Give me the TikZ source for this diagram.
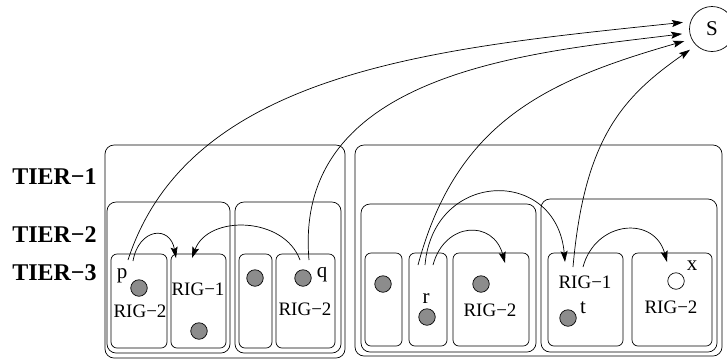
\documentclass[tikz,border=0pt]{standalone}
\usepackage{fontspec}
\setmainfont{Liberation Serif}
\usetikzlibrary{arrows.meta}

\definecolor{dotgray}{gray}{0.55}

\begin{document}
\begin{tikzpicture}[x=1pt,y=-1pt,line width=0.7pt,
    >={Stealth[length=11pt,width=7pt,inset=2pt]}]

      \useasboundingbox (0,0) rectangle (727,360);

      % tier-1 and tier-2 groups
      \begin{scope}[every node/.style={draw,rounded corners=9pt,inner sep=0pt}]
        \node[minimum width=240,minimum height=213] (L)  at (225,251.5) {};
        \node[minimum width=367,minimum height=211] (R)  at (538.5,250.5) {};
        \node[minimum width=123,minimum height=151] (La) at (168.5,277.5) {};
        \node[minimum width=106,minimum height=151] (Lb) at (288,277.5) {};
        \node[minimum width=175,minimum height=148] (Ra) at (448.5,278) {};
        \node[minimum width=176,minimum height=153] (Rb) at (629,275.5) {};
      \end{scope}

      % tier-3 groups
      \begin{scope}[every node/.style={draw,rounded corners=6pt,inner sep=0pt,minimum height=94}]
        \node[minimum width=56] (1) at (139,301)   {};
        \node[minimum width=55] (2) at (198.5,301) {};
        \node[minimum width=33] (3) at (255.5,301) {};
        \node[minimum width=59] (4) at (305.5,301) {};
        \node[minimum width=37,minimum height=93] (5) at (383.5,299.5) {};
        \node[minimum width=38,minimum height=93] (6) at (428,299.5)   {};
        \node[minimum width=76,minimum height=93] (7) at (491,299.5)   {};
        \node[minimum width=75,minimum height=93] (8) at (585.5,299.5) {};
        \node[minimum width=80,minimum height=93] (9) at (672,299.5)   {};
      \end{scope}

      % nodes
      \begin{scope}[every node/.style={circle,draw,fill=dotgray,inner sep=0pt,minimum size=16.5}]
        \node (p) at (139,288) {};
        \node (d2) at (199,331) {};
        \node (d3) at (255,278) {};
        \node (q) at (303,278) {};
        \node (d5) at (383,284) {};
        \node (r) at (427,317) {};
        \node (d7) at (481,284) {};
        \node (t) at (568,318) {};
        \node[fill=white] (x) at (676,281) {};
      \end{scope}

      \node[circle,draw,minimum size=45,inner sep=0pt,font=\fontsize{21}{21}\selectfont] (S) at (712,29) {S};

      % labels
      \begin{scope}[every node/.style={anchor=base,inner sep=0pt,font=\fontsize{19}{19}\selectfont}]
        \node at (140,317) {RIG−2};
        \node at (198,295) {RIG−1};
        \node at (305,315) {RIG−2};
        \node at (490,316) {RIG−2};
        \node at (585,288) {RIG−1};
        \node at (671,313) {RIG−2};
      \end{scope}

      \begin{scope}[every node/.style={anchor=base,inner sep=0pt,font=\fontsize{21}{21}\selectfont}]
        \node at (122,278) {p};
        \node at (322,277) {q};
        \node at (426,303) {r};
        \node at (583,313) {t};
        \node at (692,270) {x};
      \end{scope}

      \begin{scope}[every node/.style={anchor=base east,inner sep=0pt,font=\fontsize{24}{24}\selectfont\bfseries}]
        \node at (97,184) {TIER−1};
        \node at (97,242) {TIER−2};
        \node at (97,280) {TIER−3};
      \end{scope}

      % arrow start points
      \coordinate (pS) at (128,260);
      \coordinate (pR) at (133,261);
      \coordinate (qS) at (309,260);
      \coordinate (qR) at (300,260);
      \coordinate (rS) at (418,265);
      \coordinate (rT) at (425,265);
      \coordinate (rR) at (433,265);
      \coordinate (tS) at (573,267);
      \coordinate (tR) at (583,267);
      % arrow end points
      \coordinate (e2)  at (176,258);
      \coordinate (e2b) at (192,258);
      \coordinate (e7)  at (505,263);
      \coordinate (e8)  at (565,262);
      \coordinate (e9)  at (667,262);

      \begin{scope}[every edge/.style={draw,->}]
        \path (pR) edge[out=80,in=100,looseness=2]    (e2);
        \path (qR) edge[out=110,in=70,looseness=1.1]  (e2b);
        \path (rR) edge[out=75,in=105,looseness=1.6]  (e7);
        \path (rT) edge[out=85,in=95,looseness=1.75]  (e8);
        \path (tR) edge[out=75,in=105,looseness=1.47] (e9);
      \end{scope}

      \begin{scope}[every edge/.style={draw,->,shorten >=7.5pt}]
        \path (pS) edge[out=72,in=186,out looseness=0.84,in looseness=1.05] (S.161);
        \path (qS) edge[out=95,in=187,out looseness=1.09,in looseness=0.92] (S.190);
        \path (rS) edge[out=75,in=196,looseness=1.08] (S.206);
        \path (tS) edge[out=85,in=215,out looseness=1.31,in looseness=0.9] (S.226);
      \end{scope}

\end{tikzpicture}
\end{document}
